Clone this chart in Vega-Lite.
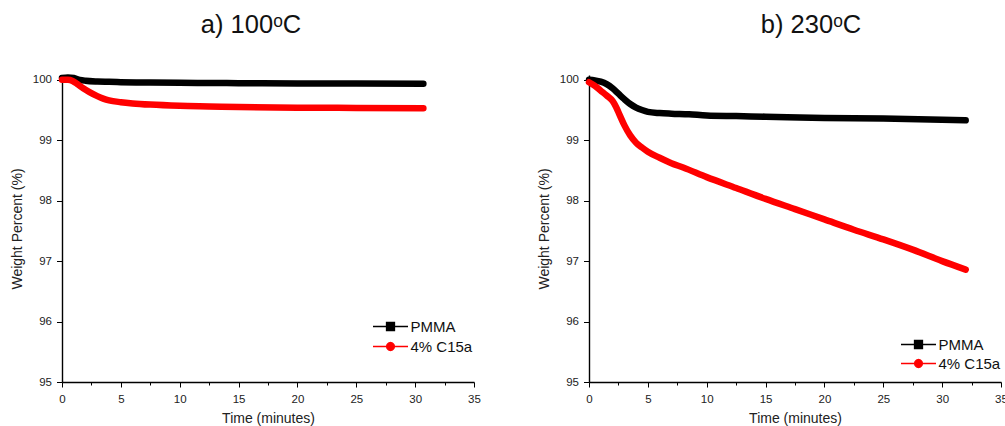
{
  "$schema": "https://vega.github.io/schema/vega-lite/v6.json",
  "background": "white",
  "padding": {"left": 10, "top": 13, "right": 0, "bottom": 0},
  "config": {
    "view": {"stroke": null},
    "font": "Liberation Sans",
    "axis": {
      "grid": false,
      "domainColor": "#000",
      "domainWidth": 1.4,
      "tickColor": "#000",
      "tickWidth": 1,
      "labelColor": "#222",
      "titleColor": "#222",
      "labelFont": "Liberation Sans",
      "titleFont": "Liberation Sans",
      "labelFontSize": 11.5,
      "titleFontSize": 14,
      "titleFontWeight": "normal"
    },
    "legend": {
      "labelFont": "Liberation Sans",
      "labelFontSize": 15,
      "labelColor": "#111"
    }
  },
  "datasets": {
    "a": [
      {"series": "PMMA", "t": 0, "w": 100.03},
      {"series": "PMMA", "t": 0.5, "w": 100.04},
      {"series": "PMMA", "t": 1.0, "w": 100.03},
      {"series": "PMMA", "t": 1.5, "w": 100.0},
      {"series": "PMMA", "t": 2, "w": 99.985},
      {"series": "PMMA", "t": 3, "w": 99.972},
      {"series": "PMMA", "t": 4, "w": 99.967},
      {"series": "PMMA", "t": 5, "w": 99.962},
      {"series": "PMMA", "t": 7, "w": 99.956},
      {"series": "PMMA", "t": 10, "w": 99.951},
      {"series": "PMMA", "t": 13, "w": 99.948},
      {"series": "PMMA", "t": 15, "w": 99.945},
      {"series": "PMMA", "t": 20, "w": 99.94},
      {"series": "PMMA", "t": 25, "w": 99.938},
      {"series": "PMMA", "t": 30.7, "w": 99.935},
      {"series": "4% C15a", "t": 0, "w": 100.0},
      {"series": "4% C15a", "t": 0.5, "w": 100.0},
      {"series": "4% C15a", "t": 0.9, "w": 99.98},
      {"series": "4% C15a", "t": 1.3, "w": 99.93},
      {"series": "4% C15a", "t": 1.8, "w": 99.86},
      {"series": "4% C15a", "t": 2.3, "w": 99.8},
      {"series": "4% C15a", "t": 3, "w": 99.73},
      {"series": "4% C15a", "t": 3.5, "w": 99.69},
      {"series": "4% C15a", "t": 4, "w": 99.66},
      {"series": "4% C15a", "t": 5, "w": 99.63},
      {"series": "4% C15a", "t": 6, "w": 99.61},
      {"series": "4% C15a", "t": 7.5, "w": 99.59},
      {"series": "4% C15a", "t": 10, "w": 99.57},
      {"series": "4% C15a", "t": 12.5, "w": 99.56},
      {"series": "4% C15a", "t": 15, "w": 99.55},
      {"series": "4% C15a", "t": 20, "w": 99.54},
      {"series": "4% C15a", "t": 25, "w": 99.535},
      {"series": "4% C15a", "t": 30.7, "w": 99.53}
    ],
    "b": [
      {"series": "PMMA", "t": 0, "w": 100.0},
      {"series": "PMMA", "t": 0.5, "w": 99.99},
      {"series": "PMMA", "t": 1.0, "w": 99.97},
      {"series": "PMMA", "t": 1.5, "w": 99.93},
      {"series": "PMMA", "t": 2.0, "w": 99.86},
      {"series": "PMMA", "t": 2.5, "w": 99.77},
      {"series": "PMMA", "t": 3.0, "w": 99.68},
      {"series": "PMMA", "t": 3.5, "w": 99.6},
      {"series": "PMMA", "t": 4.0, "w": 99.54},
      {"series": "PMMA", "t": 4.5, "w": 99.5},
      {"series": "PMMA", "t": 5.0, "w": 99.47},
      {"series": "PMMA", "t": 6, "w": 99.45},
      {"series": "PMMA", "t": 7, "w": 99.44},
      {"series": "PMMA", "t": 8.5, "w": 99.43},
      {"series": "PMMA", "t": 10, "w": 99.41},
      {"series": "PMMA", "t": 12.5, "w": 99.4},
      {"series": "PMMA", "t": 15, "w": 99.39},
      {"series": "PMMA", "t": 20, "w": 99.37},
      {"series": "PMMA", "t": 25, "w": 99.36},
      {"series": "PMMA", "t": 30, "w": 99.34},
      {"series": "PMMA", "t": 32, "w": 99.33},
      {"series": "4% C15a", "t": 0, "w": 99.96},
      {"series": "4% C15a", "t": 0.5, "w": 99.9},
      {"series": "4% C15a", "t": 1.0, "w": 99.82},
      {"series": "4% C15a", "t": 1.5, "w": 99.74},
      {"series": "4% C15a", "t": 2.0, "w": 99.65},
      {"series": "4% C15a", "t": 2.3, "w": 99.55},
      {"series": "4% C15a", "t": 2.6, "w": 99.42},
      {"series": "4% C15a", "t": 3.0, "w": 99.25},
      {"series": "4% C15a", "t": 3.5, "w": 99.08},
      {"series": "4% C15a", "t": 4.0, "w": 98.96},
      {"series": "4% C15a", "t": 4.5, "w": 98.88},
      {"series": "4% C15a", "t": 5, "w": 98.81},
      {"series": "4% C15a", "t": 6, "w": 98.71},
      {"series": "4% C15a", "t": 7, "w": 98.62},
      {"series": "4% C15a", "t": 8, "w": 98.55},
      {"series": "4% C15a", "t": 10, "w": 98.39},
      {"series": "4% C15a", "t": 12.5, "w": 98.21},
      {"series": "4% C15a", "t": 15, "w": 98.03},
      {"series": "4% C15a", "t": 17.5, "w": 97.86},
      {"series": "4% C15a", "t": 20, "w": 97.69},
      {"series": "4% C15a", "t": 22.5, "w": 97.52},
      {"series": "4% C15a", "t": 25, "w": 97.36},
      {"series": "4% C15a", "t": 27.5, "w": 97.19},
      {"series": "4% C15a", "t": 30, "w": 97.0},
      {"series": "4% C15a", "t": 32, "w": 96.86}
    ]
  },
  "spacing": 56,
  "resolve": {"scale": {"color": "independent"}, "legend": {"color": "independent"}},
  "hconcat": [
    {
      "width": 412,
      "height": 307,
      "title": {"text": "a) 100ᵒC", "fontSize": 25.5, "fontWeight": "normal", "font": "Liberation Sans", "color": "#111", "anchor": "middle", "frame": "group", "offset": 35, "dx": -17},
      "data": {"name": "a"},
      "mark": {"type": "line", "strokeWidth": 6.5, "strokeCap": "round", "strokeJoin": "round", "interpolate": "monotone"},
      "encoding": {
        "x": {
          "field": "t", "type": "quantitative",
          "scale": {"domain": [0, 35], "nice": false},
          "axis": {
            "title": "Time (minutes)",
            "values": [0, 2.5, 5, 7.5, 10, 12.5, 15, 17.5, 20, 22.5, 25, 27.5, 30, 32.5, 35],
            "labelExpr": "datum.value % 5 == 0 ? datum.label : ''",
            "tickSize": 5,
            "tickDash": {"condition": {"test": "datum.value % 5 != 0", "value": [3, 10]}, "value": []},
            "labelPadding": 6,
            "titlePadding": 7,
            "labelFlush": false,
            "labelOverlap": false
          }
        },
        "y": {
          "field": "w", "type": "quantitative",
          "scale": {"domain": [95, 100.08], "nice": false, "zero": false},
          "axis": {
            "title": "Weight Percent (%)",
            "values": [95, 95.5, 96, 96.5, 97, 97.5, 98, 98.5, 99, 99.5, 100],
            "format": "d",
            "labelExpr": "datum.value % 1 == 0 ? datum.label : ''",
            "tickSize": 5.5,
            "tickDash": {"condition": {"test": "datum.value % 1 != 0", "value": [3, 10]}, "value": []},
            "labelPadding": 5,
            "titlePadding": 8,
            "labelOverlap": false
          }
        },
        "color": {
          "field": "series", "type": "nominal",
          "scale": {"domain": ["PMMA", "4% C15a"], "range": ["#000000", "#ff0000"]},
          "legend": {
            "title": null,
            "orient": "none",
            "legendX": 321,
            "legendY": 244,
            "padding": 0,
            "symbolType": "M-3.5,0H3.5M-0.8,-0.8H0.8V0.8H-0.8Z",
            "symbolSize": 100,
            "symbolStrokeWidth": 1.3,
            "labelOffset": 12.5,
            "rowPadding": 4,
            "encode": {
              "symbols": {
                "update": {
                  "fill": {"signal": "datum.value == 'PMMA' ? '#000000' : '#ff0000'"},
                  "stroke": {"signal": "datum.value == 'PMMA' ? '#333333' : '#ff0000'"},
                  "shape": {"signal": "datum.value == 'PMMA' ? 'M-3.5,0H3.5M-0.8,-0.8H0.8V0.8H-0.8Z' : 'M-3.5,0H3.5M0.8,0L0.69,0.4L0.4,0.69L0,0.8L-0.4,0.69L-0.69,0.4L-0.8,0L-0.69,-0.4L-0.4,-0.69L0,-0.8L0.4,-0.69L0.69,-0.4Z'"}
                }
              }
            }
          }
        }
      }
    },
    {
      "width": 412,
      "height": 307,
      "title": {"text": "b) 230ᵒC", "fontSize": 25.5, "fontWeight": "normal", "font": "Liberation Sans", "color": "#111", "anchor": "middle", "frame": "group", "offset": 35, "dx": 16},
      "data": {"name": "b"},
      "mark": {"type": "line", "strokeWidth": 6.5, "strokeCap": "round", "strokeJoin": "round", "interpolate": "monotone"},
      "encoding": {
        "x": {
          "field": "t", "type": "quantitative",
          "scale": {"domain": [0, 35], "nice": false},
          "axis": {
            "title": "Time (minutes)",
            "values": [0, 2.5, 5, 7.5, 10, 12.5, 15, 17.5, 20, 22.5, 25, 27.5, 30, 32.5, 35],
            "labelExpr": "datum.value % 5 == 0 ? datum.label : ''",
            "tickSize": 5,
            "tickDash": {"condition": {"test": "datum.value % 5 != 0", "value": [3, 10]}, "value": []},
            "labelPadding": 6,
            "titlePadding": 7,
            "labelFlush": false,
            "labelOverlap": false
          }
        },
        "y": {
          "field": "w", "type": "quantitative",
          "scale": {"domain": [95, 100.08], "nice": false, "zero": false},
          "axis": {
            "title": "Weight Percent (%)",
            "values": [95, 95.5, 96, 96.5, 97, 97.5, 98, 98.5, 99, 99.5, 100],
            "format": "d",
            "labelExpr": "datum.value % 1 == 0 ? datum.label : ''",
            "tickSize": 5.5,
            "tickDash": {"condition": {"test": "datum.value % 1 != 0", "value": [3, 10]}, "value": []},
            "labelPadding": 5,
            "titlePadding": 8,
            "labelOverlap": false
          }
        },
        "color": {
          "field": "series", "type": "nominal",
          "scale": {"domain": ["PMMA", "4% C15a"], "range": ["#000000", "#ff0000"]},
          "legend": {
            "title": null,
            "orient": "none",
            "legendX": 322,
            "legendY": 262,
            "padding": 0,
            "symbolType": "M-3.5,0H3.5M-0.8,-0.8H0.8V0.8H-0.8Z",
            "symbolSize": 100,
            "symbolStrokeWidth": 1.3,
            "labelOffset": 12.5,
            "rowPadding": 3,
            "encode": {
              "symbols": {
                "update": {
                  "fill": {"signal": "datum.value == 'PMMA' ? '#000000' : '#ff0000'"},
                  "stroke": {"signal": "datum.value == 'PMMA' ? '#444444' : '#ff6666'"},
                  "shape": {"signal": "datum.value == 'PMMA' ? 'M-3.5,0H3.5M-0.8,-0.8H0.8V0.8H-0.8Z' : 'M-3.5,0H3.5M0.8,0L0.69,0.4L0.4,0.69L0,0.8L-0.4,0.69L-0.69,0.4L-0.8,0L-0.69,-0.4L-0.4,-0.69L0,-0.8L0.4,-0.69L0.69,-0.4Z'"}
                }
              }
            }
          }
        }
      }
    }
  ]
}
